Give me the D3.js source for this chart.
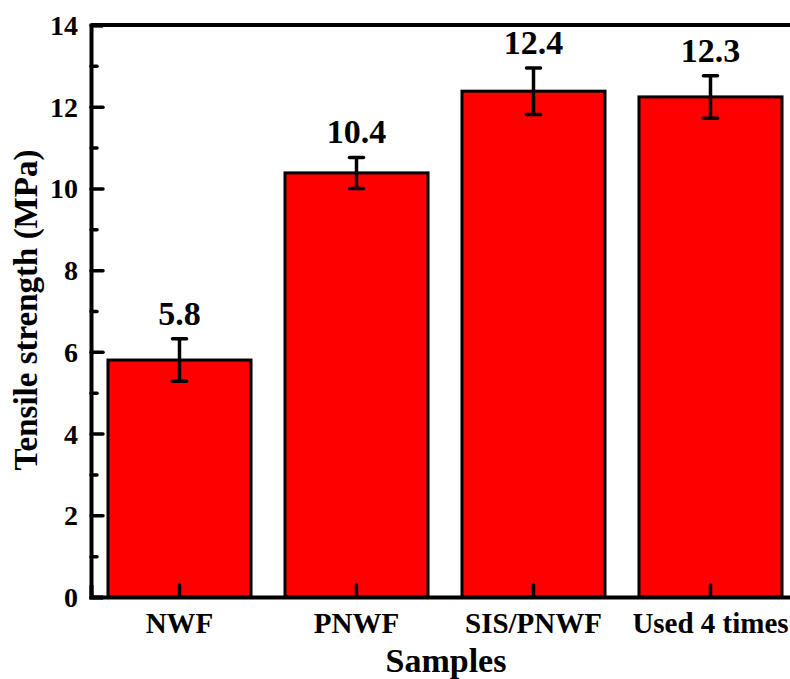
<!DOCTYPE html>
<html>
<head>
<meta charset="utf-8">
<script src="https://cdn.jsdelivr.net/npm/d3@7"></script>
<style>
  body { margin: 0; background: #fff; }
  svg { display: block; }
  svg text { font-family: "Liberation Serif", "Times New Roman", Times, "DejaVu Serif", serif !important; font-weight: bold; fill: #000; }
</style>
</head>
<body>
<div id="chart"></div>
<script>
// data
var samples = ["NWF", "PNWF", "SIS/PNWF", "Used 4 times"];
var strength = [5.8, 10.38, 12.38, 12.24];
var errors = [0.52, 0.38, 0.57, 0.52];
var valueLabels = ["5.8", "10.4", "12.4", "12.3"];
var yTicks = [0, 2, 4, 6, 8, 10, 12, 14];
var yMinorTicks = [1, 3, 5, 7, 9, 11, 13];

var svgWidth = 790;
var svgHeight = 679;

// plot area (right side runs past the window edge like the original)
var margin = { top: 25, left: 91, bottom: 82 };
var plotRight = 799;
var plotBottom = svgHeight - margin.bottom;

var svg = d3.select("#chart")
  .append("svg")
  .attr("width", svgWidth)
  .attr("height", svgHeight);

var xScale = d3.scaleBand()
  .domain(samples)
  .range([margin.left, plotRight])
  .paddingInner(0.192)
  .paddingOuter(0.096);

var yScale = d3.scaleLinear()
  .domain([0, 14])
  .range([plotBottom, margin.top]);

var data = samples.map(function(s, i) {
  return { name: s, value: strength[i], err: errors[i], label: valueLabels[i] };
});

// bars
svg.selectAll(".bar")
  .data(data)
  .enter()
  .append("rect")
  .attr("class", "bar")
  .attr("x", d => xScale(d.name))
  .attr("y", d => yScale(d.value))
  .attr("width", xScale.bandwidth())
  .attr("height", d => plotBottom - yScale(d.value))
  .attr("fill", "#ff0000")
  .attr("stroke", "#000")
  .attr("stroke-width", 3);

// error bars
var errGroup = svg.selectAll(".err")
  .data(data)
  .enter()
  .append("g")
  .attr("class", "err")
  .attr("stroke", "#000")
  .attr("stroke-width", 3.5);

var cx = d => xScale(d.name) + xScale.bandwidth() / 2;

errGroup.append("line")
  .attr("x1", cx)
  .attr("x2", cx)
  .attr("y1", d => yScale(d.value - d.err))
  .attr("y2", d => yScale(d.value + d.err));

errGroup.append("line")
  .attr("x1", d => cx(d) - 7)
  .attr("x2", d => cx(d) + 7)
  .attr("y1", d => yScale(d.value + d.err))
  .attr("y2", d => yScale(d.value + d.err))
  .attr("stroke-linecap", "round");

errGroup.append("line")
  .attr("x1", d => cx(d) - 7)
  .attr("x2", d => cx(d) + 7)
  .attr("y1", d => yScale(d.value - d.err))
  .attr("y2", d => yScale(d.value - d.err))
  .attr("stroke-linecap", "round");

// value labels
svg.selectAll(".vlabel")
  .data(data)
  .enter()
  .append("text")
  .attr("class", "vlabel")
  .attr("x", cx)
  .attr("y", d => yScale(d.value + d.err) - 14)
  .attr("text-anchor", "middle")
  .style("font-size", "34px")
  .text(d => d.label);

// left axis
var leftAxis = d3.axisLeft(yScale)
  .tickValues(yTicks)
  .tickSize(-12)
  .tickPadding(13)
  .tickFormat(d3.format("d"));

var gLeft = svg.append("g")
  .attr("transform", `translate(${margin.left},0)`)
  .call(leftAxis);

var minorAxis = d3.axisLeft(yScale)
  .tickValues(yMinorTicks)
  .tickSize(-6)
  .tickFormat("");

var gMinor = svg.append("g")
  .attr("transform", `translate(${margin.left},0)`)
  .call(minorAxis);
gMinor.select(".domain").remove();

// bottom axis
var bottomAxis = d3.axisBottom(xScale)
  .tickSize(-12)
  .tickPadding(15);

var gBottom = svg.append("g")
  .attr("transform", `translate(0,${plotBottom})`)
  .call(bottomAxis);

[gLeft, gMinor, gBottom].forEach(function(g) {
  g.attr("font-family", null);
  g.selectAll(".tick line").attr("stroke", "#000").attr("stroke-width", 3.5).attr("stroke-linecap", "round");
  g.selectAll(".domain").attr("stroke", "#000").attr("stroke-width", 4);
  g.selectAll(".tick text").attr("fill", "#000");
});
gLeft.selectAll(".tick text").style("font-size", "28px").attr("dy", "0.34em");
gBottom.selectAll(".tick text").style("font-size", "29px").attr("dy", "0.71em");

// frame: top and right edges
svg.append("path")
  .attr("d", `M${margin.left},${margin.top}H${plotRight}V${plotBottom}`)
  .attr("fill", "none")
  .attr("stroke", "#000")
  .attr("stroke-width", 4);

// axis titles
svg.append("text")
  .attr("x", 446)
  .attr("y", 672)
  .attr("text-anchor", "middle")
  .style("font-size", "34px")
  .text("Samples");

svg.append("text")
  .attr("transform", "translate(37,310) rotate(-90)")
  .attr("text-anchor", "middle")
  .style("font-size", "33px")
  .text("Tensile strength (MPa)");
</script>
</body>
</html>
